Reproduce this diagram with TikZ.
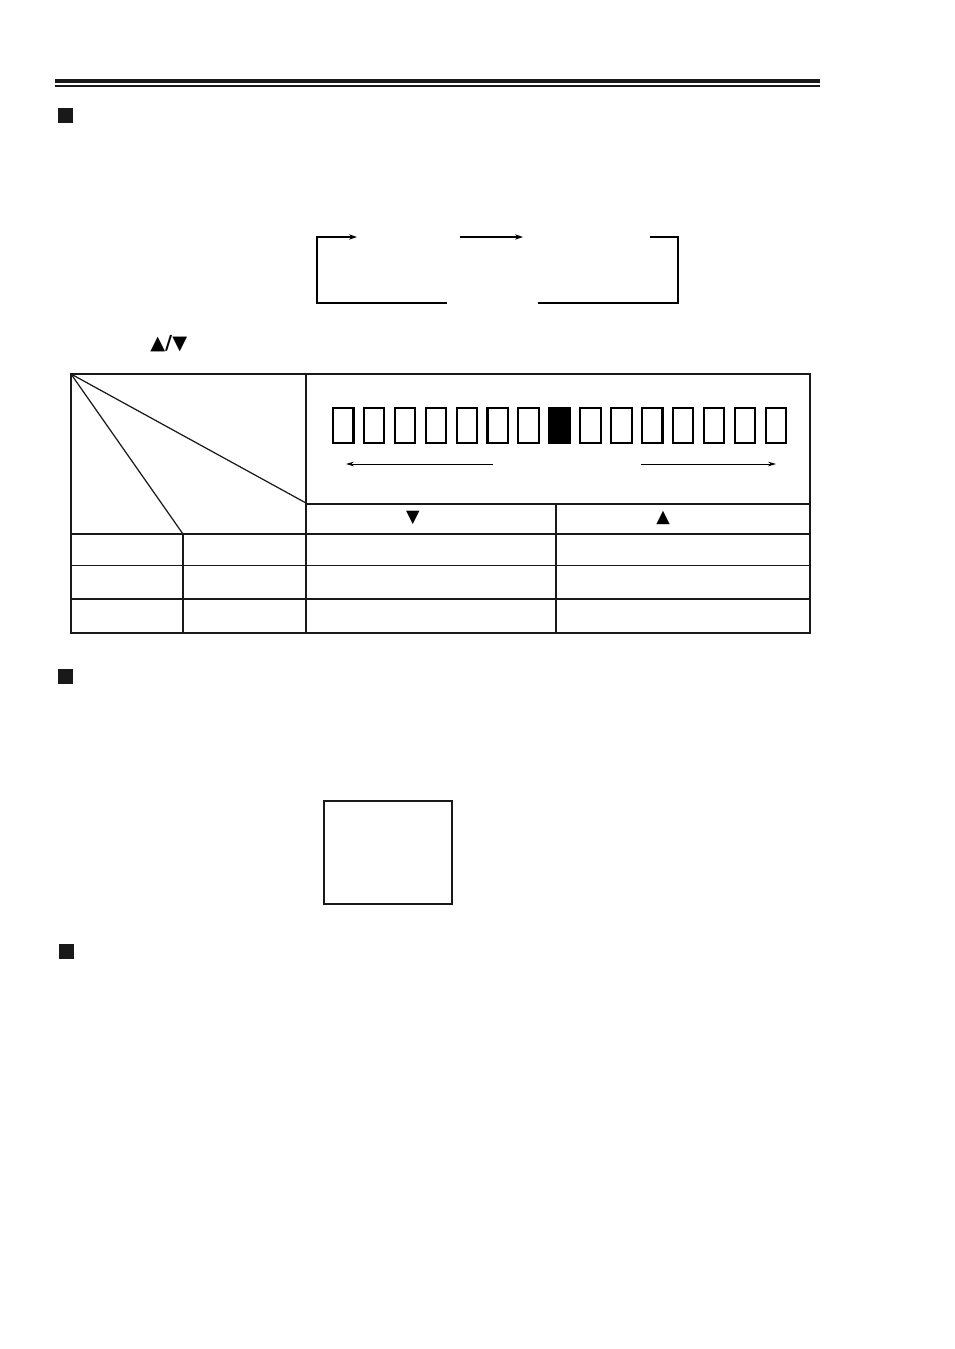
\documentclass[tikz,border=0pt]{standalone}
\usepackage{fontspec}
\newfontfamily\symfont{DejaVu Sans}
\usetikzlibrary{arrows.meta}
\begin{document}
\begin{tikzpicture}[x=0.02cm,y=-0.02cm,
  thickln/.style={line width=1.1pt,draw=black!90},
  thinln/.style={line width=0.7pt,draw=black!90},
  bullet/.style={fill=black!90},
  tofu/.style={line width=1.15pt,draw=black},
  flowarrow/.style={line width=1.1pt,-{Stealth[length=4.5pt,width=3pt]}},
  flowln/.style={line width=1.1pt},
  tblarrow/.style={line width=0.5pt,-{Stealth[length=4.5pt,width=2.6pt]}},
  sym/.style={font=\symfont\bfseries\fontsize{10}{11}\selectfont, inner sep=0pt}]
\useasboundingbox (0,0) rectangle (954,1349);
% top rules
\fill[black!90] (55,78.5) rectangle (820,83);
\fill[black!90] (55,85) rectangle (820,86.8);
% section bullets
\fill[bullet] (58,108) rectangle (73,123);
\fill[bullet] (58,669) rectangle (73,684);
\fill[bullet] (59,944) rectangle (74,959);
% cycle diagram
\coordinate (la) at (357,237);
\coordinate (lb) at (317,237);
\coordinate (lc) at (317,303);
\coordinate (ld) at (447,303);
\coordinate (ma) at (460,237);
\coordinate (mb) at (523,237);
\coordinate (ra) at (650,237);
\coordinate (rb) at (678,237);
\coordinate (rc) at (678,303);
\coordinate (rd) at (538,303);
\draw[flowarrow] (ld) -- (lc) -- (lb) -- (la);
\draw[flowarrow] (ma) -- (mb);
\draw[flowln] (ra) -- (rb) -- (rc) -- (rd);
% up/down label
\node[sym, anchor=west, font=\symfont\bfseries\fontsize{11}{12}\selectfont] (updown) at (150,344) {▲/▼};
% table
\draw[thickln] (71,374) rectangle (810,633);
\draw[thickln] (306,374) -- (306,633);
\draw[thickln] (306,504) -- (810,504);
\draw[thickln] (71,534) -- (810,534);
\draw[thinln] (71,565.5) -- (810,565.5);
\draw[thickln] (71,599) -- (810,599);
\draw[thinln] (183,534) -- (183,633);
\draw[thickln] (556,504) -- (556,633);
\draw[thinln] (71,374) -- (306,503);
\draw[thinln] (71,374) -- (183,534);
% tofu boxes
\foreach \i in {0,...,14} {
  \pgfmathsetmacro{\xx}{332+\i*30.9}
  \ifnum\i=7
    \fill[black] (\xx,407) rectangle ++(22.5,37);
  \else
    \draw[tofu] (\xx+1,408) rectangle ++(20.5,35);
  \fi
}
\coordinate (al1) at (493,464);
\coordinate (al2) at (346,464);
\coordinate (ar1) at (641,464);
\coordinate (ar2) at (776,464);
\draw[tblarrow] (al1) -- (al2);
\draw[tblarrow] (ar1) -- (ar2);
\node[sym] (down) at (413,518) {▼};
\node[sym] (up) at (663,518) {▲};
% empty box
\draw[line width=1.1pt, draw=black!90] (324,801) rectangle (452,904);
\end{tikzpicture}
\end{document}
